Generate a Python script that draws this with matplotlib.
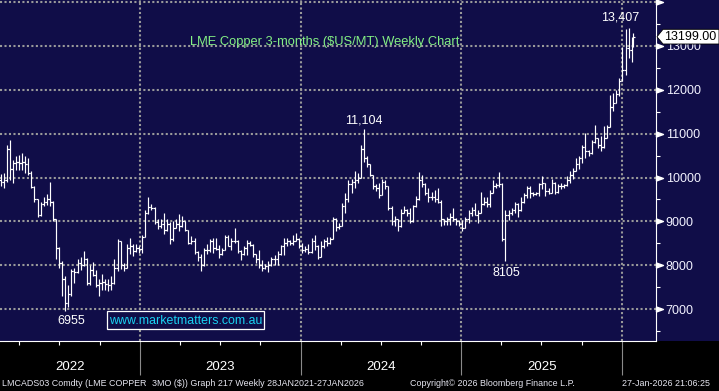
import matplotlib
matplotlib.use('Agg')
import matplotlib.pyplot as plt
import matplotlib.dates as mdates
import matplotlib.ticker as mticker
from matplotlib.patches import Rectangle, Polygon
from matplotlib.transforms import blended_transform_factory
import numpy as np
import pandas as pd

plt.rcParams['font.family'] = ['Liberation Sans', 'DejaVu Sans']

# LME Copper 3-months, weekly bars (Fri 18-Feb-2022 .. Tue 27-Jan-2026)
opens = [
    9950, 9900, 9950, 10650, 10200, 10330, 10350, 10320, 10350, 10300,
    10100, 9780, 9500, 9150, 9400, 9450, 9500, 9450, 9050, 8400,
    8050, 7700, 7150, 7350, 7880, 7850, 8050, 8000, 8150, 7600,
    7900, 7780, 7550, 7600, 7620, 7580, 7550, 7600, 7950, 8550,
    8000, 7950, 8400, 8450, 8330, 8400, 8370, 8650, 9200, 9330,
    9300, 8980, 8900, 8950, 8800, 8950, 8600, 8850, 8950, 8900,
    9000, 8800, 8500, 8550, 8300, 8200, 8000, 8350, 8350, 8550,
    8400, 8380, 8250, 8350, 8650, 8450, 8550, 8550, 8330, 8250,
    8400, 8500, 8470, 8250, 8150, 8000, 7950, 7980, 8000, 8150,
    8150, 8250, 8450, 8500, 8550, 8500, 8550, 8600, 8450, 8350,
    8380, 8300, 8550, 8450, 8200, 8450, 8550, 8500, 8600, 9050,
    8880, 8900, 9350, 9500, 9850, 9900, 9950, 10000, 10650, 10450,
    10300, 10050, 9800, 9750, 9600, 9900, 9800, 9300, 9000, 9050,
    8900, 9200, 9250, 9200, 9000, 9350, 9500, 9950, 9850, 9650,
    9550, 9550, 9500, 9450, 9050, 9000, 9050, 9100, 9050, 9000,
    8950, 8850, 9050, 9200, 9250, 9150, 9200, 9400, 9450, 9400,
    9650, 9800, 9820, 9850, 8600, 9150, 9200, 9250, 9400, 9250,
    9450, 9600, 9750, 9650, 9620, 9640, 9850, 9870, 9700, 9650,
    9880, 9660, 9800, 9800, 9820, 9950, 10050, 10150, 10300, 10450,
    10700, 10600, 10550, 10800, 10900, 10750, 10700, 10900, 11150, 11600,
    11700, 11900, 12200, 12450, 12950, 12900, 13100,
]
highs = [
    10070, 10100, 10730, 10845, 10400, 10480, 10520, 10560, 10480, 10450,
    10150, 9800, 9500, 9450, 9560, 9620, 9900, 9460, 9060, 8420,
    8100, 7750, 7550, 7920, 7950, 8150, 8200, 8330, 8160, 8000,
    8080, 7900, 7700, 7800, 7700, 7700, 7750, 8150, 8600, 8560,
    8060, 8480, 8630, 8480, 8480, 8450, 8700, 9250, 9550, 9400,
    9320, 9050, 9050, 9200, 9050, 8980, 9010, 9050, 9170, 9130,
    9015, 8800, 8670, 8630, 8330, 8250, 8400, 8480, 8600, 8620,
    8620, 8470, 8400, 8700, 8700, 8620, 8850, 8580, 8360, 8430,
    8580, 8550, 8480, 8260, 8360, 8130, 8020, 8090, 8200, 8240,
    8320, 8470, 8620, 8620, 8580, 8700, 8740, 8620, 8500, 8450,
    8480, 8620, 8680, 8460, 8550, 8600, 8640, 8650, 9110, 9070,
    8970, 9420, 9640, 9950, 9960, 10144, 10100, 10750, 11104, 10485,
    10300, 10050, 9850, 9880, 9955, 9950, 9800, 9350, 9121, 9060,
    9273, 9348, 9280, 9310, 9380, 9570, 10130, 10050, 9870, 9750,
    9680, 9710, 9750, 9490, 9060, 9110, 9190, 9300, 9075, 9040,
    9040, 9100, 9263, 9338, 9413, 9263, 9677, 9564, 9564, 9714,
    9940, 9865, 10128, 9870, 9250, 9260, 9300, 9450, 9410, 9560,
    9655, 9806, 9806, 9660, 9660, 9880, 10033, 9882, 9770, 9957,
    9890, 9844, 9882, 9844, 10033, 10146, 10222, 10448, 10486, 10750,
    11014, 10620, 10863, 11203, 10901, 10939, 11165, 11203, 11883, 11920,
    11996, 12263, 12977, 13390, 13407, 13200, 13280,
]
lows = [
    9800, 9750, 9900, 9950, 9880, 10180, 10180, 10180, 10100, 10050,
    9760, 9450, 9100, 9130, 9350, 9380, 9350, 9000, 8140, 7950,
    7300, 6955, 7050, 7300, 7600, 7820, 7900, 7980, 7550, 7560,
    7750, 7500, 7300, 7450, 7450, 7420, 7450, 7580, 7870, 7910,
    7870, 7940, 8250, 8210, 8300, 8280, 8280, 8640, 9180, 9250,
    8950, 8820, 8860, 8710, 8780, 8480, 8560, 8840, 8790, 8880,
    8790, 8480, 8480, 8250, 8100, 7870, 7980, 8250, 8300, 8280,
    8360, 8170, 8240, 8340, 8430, 8360, 8500, 8280, 8130, 8240,
    8240, 8430, 8200, 8050, 7950, 7864, 7920, 7860, 7990, 8010,
    8010, 8240, 8240, 8430, 8470, 8470, 8545, 8400, 8280, 8300,
    8250, 8280, 8350, 8135, 8180, 8400, 8450, 8480, 8590, 8780,
    8820, 8890, 9190, 9450, 9650, 9760, 9880, 9980, 10350, 10250,
    10030, 9727, 9700, 9540, 9600, 9727, 9270, 8930, 8894, 8780,
    8880, 9197, 9121, 8970, 8990, 9330, 9480, 9790, 9600, 9450,
    9490, 9450, 9410, 8890, 8925, 8925, 8925, 9000, 8925, 8890,
    8775, 8840, 8960, 9113, 9150, 8962, 9190, 9376, 9338, 9338,
    9640, 9752, 9789, 8550, 8105, 9040, 9150, 9200, 9110, 9240,
    9410, 9542, 9542, 9580, 9600, 9580, 9730, 9580, 9620, 9640,
    9618, 9650, 9731, 9769, 9810, 9882, 9957, 10146, 10184, 10335,
    10448, 10486, 10540, 10788, 10675, 10599, 10675, 10890, 11140, 11505,
    11690, 11845, 12190, 12338, 12714, 12639, 12977,
]
closes = [
    9900, 9950, 10650, 10200, 10330, 10350, 10320, 10350, 10300, 10100,
    9780, 9500, 9150, 9400, 9450, 9500, 9450, 9050, 8400, 8050,
    7700, 7150, 7350, 7880, 7850, 8050, 8000, 8150, 7600, 7900,
    7780, 7550, 7600, 7620, 7580, 7550, 7600, 7950, 8550, 8000,
    7950, 8400, 8450, 8330, 8400, 8370, 8650, 9200, 9330, 9300,
    8980, 8900, 8950, 8800, 8950, 8600, 8850, 8950, 8900, 9000,
    8800, 8500, 8550, 8300, 8200, 8000, 8350, 8350, 8550, 8400,
    8380, 8250, 8350, 8650, 8450, 8550, 8550, 8330, 8250, 8400,
    8500, 8470, 8250, 8150, 8000, 7950, 7980, 8000, 8150, 8150,
    8250, 8450, 8500, 8550, 8500, 8550, 8600, 8450, 8350, 8380,
    8300, 8550, 8450, 8200, 8450, 8550, 8500, 8600, 9050, 8880,
    8900, 9350, 9500, 9850, 9900, 9950, 10000, 10650, 10450, 10300,
    10050, 9800, 9750, 9600, 9900, 9800, 9300, 9000, 9050, 8900,
    9200, 9250, 9200, 9000, 9350, 9500, 9950, 9850, 9650, 9550,
    9550, 9500, 9450, 9050, 9000, 9050, 9100, 9050, 9000, 8950,
    8850, 9050, 9200, 9250, 9150, 9200, 9400, 9450, 9400, 9650,
    9800, 9820, 9850, 8600, 9150, 9200, 9250, 9400, 9250, 9450,
    9600, 9750, 9650, 9620, 9640, 9850, 9870, 9700, 9650, 9880,
    9660, 9800, 9800, 9820, 9950, 10050, 10150, 10300, 10450, 10700,
    10600, 10550, 10800, 10900, 10750, 10700, 10900, 11150, 11600, 11700,
    11900, 12200, 12450, 12950, 12900, 13100, 13199,
]
dates = list(pd.date_range('2022-02-18', periods=206, freq='7D')) + [pd.Timestamp('2026-01-27')]

y_levels = [7000, 8000, 9000, 10000, 11000, 12000, 13000, 14000]
notes = [('13,407', 204, 'high', -6.2, 7.8),
         ('11,104', 118, 'high', 0.0, 6.1),
         ('8105', 164, 'low', 0.7, -8.6),
         ('6955', 21, 'low', 4.3, -7.2)]
years = [2022, 2023, 2024, 2025]
title = 'LME Copper 3-months ($US/MT) Weekly Chart'
last_price = '13199.00'

NAVY = '#100d48'
W, H = 719, 391


def fx(px):
    return px / W


def fy(py):
    return 1 - py / H


fig = plt.figure(figsize=(W / 100, H / 100), dpi=100, facecolor='black')
fig.add_artist(Rectangle((0, fy(341)), 1, 341 / H, transform=fig.transFigure,
                         facecolor=NAVY, edgecolor='none', zorder=-1))
ax = fig.add_axes([0, fy(341), fx(656), 341 / H], facecolor=NAVY)

x = mdates.date2num(dates)
tick = 4.0
ax.vlines(x, lows, highs, color='white', lw=0.85)
ax.hlines(opens, x - tick, x, color='white', lw=0.85)
ax.hlines(closes, x, x + tick, color='white', lw=0.85)

xmin = mdates.date2num(pd.Timestamp('2022-02-16 16:00'))
xmax = mdates.date2num(pd.Timestamp('2026-03-19 08:00'))
ax.set_xlim(xmin, xmax)
ax.set_ylim(6278, 14041)

# spines
for s in ['top', 'left']:
    ax.spines[s].set_visible(False)
for s in ['right', 'bottom']:
    ax.spines[s].set_color('white')
    ax.spines[s].set_linewidth(0.8)

# x axis: year lines + quarter ticks
ax.xaxis.set_major_locator(mdates.YearLocator())
ax.xaxis.set_minor_locator(mdates.MonthLocator(bymonth=[4, 7, 10]))
ax.xaxis.set_major_formatter(mticker.NullFormatter())
ax.tick_params(axis='x', which='major', length=24.5, width=0.8, color='#8a8a8a')
ax.tick_params(axis='x', which='minor', length=2.6, width=0.8, color='white')

# y axis on the right
ax.yaxis.tick_right()
ax.set_yticks(y_levels)
ax.set_yticklabels([str(v) if v < 14000 else '' for v in y_levels])
ax.set_yticks([v - 500 for v in y_levels], minor=True)
ax.tick_params(axis='y', which='major', length=0, pad=7, labelsize=9, labelcolor='#f2f2ff')
ax.tick_params(axis='y', which='minor', length=2.9, width=0.8, color='white')

grid_style = dict(color='#9a9a9a', lw=1.5, linestyle=(0, (1, 1.15)))
ax.grid(True, axis='y', which='major', **grid_style)
ax.grid(True, axis='x', which='major', **grid_style)
ax.set_axisbelow(True)

# triangle markers on the price scale
tri = [(0, -0.36), (1, 0), (0, 0.36), (0, -0.36)]
ax.plot(np.ones(len(y_levels)), y_levels, ls='none', marker=tri, ms=10, color='white',
        transform=blended_transform_factory(ax.transAxes, ax.transData), clip_on=False)

# year labels, centered in the visible part of each year
trans = blended_transform_factory(ax.transData, fig.transFigure)
for yr in years:
    a = max(xmin, mdates.date2num(pd.Timestamp(f'{yr}-01-01')))
    b = min(xmax, mdates.date2num(pd.Timestamp(f'{yr + 1}-01-01')))
    fig.text((a + b) / 2, fy(367), str(yr), transform=trans, ha='center', va='center',
             color='white', fontsize=9.5)

# high / low notes
for txt, i, kind, dx, dy in notes:
    yv = highs[i] if kind == 'high' else lows[i]
    ax.annotate(txt, xy=(x[i], yv), xytext=(dx, dy), textcoords='offset points',
                ha='center', va='center', color='white', fontsize=9)

fig.text(fx(324.5), fy(42), title, color='#84f084', fontsize=9.3, ha='center', va='center')

# website box
fig.add_artist(Rectangle((fx(107), fy(329.3)), fx(264) - fx(107), (329.3 - 311) / H,
                         transform=fig.transFigure, facecolor=NAVY, edgecolor='white',
                         lw=0.9, zorder=2))
fig.text(fx(185.5), fy(320.5), 'www.marketmatters.com.au', color='#1ad2f2', fontsize=8.9,
         ha='center', va='center', zorder=3)

# last price tag
tag = [(657, 36.8), (663, 29.3), (719, 29.3), (719, 44.0), (663, 44.0)]
fig.add_artist(Polygon([(fx(a), fy(b)) for a, b in tag], closed=True, transform=fig.transFigure,
                       facecolor='white', edgecolor='black', lw=0.6, zorder=2))
fig.text(fx(664), fy(36.8), last_price, color='black', fontsize=9, ha='left', va='center', zorder=3)

# footer
foot = dict(color='#e6e6f0', fontsize=6.4, ha='left', va='center')
fig.text(fx(2), fy(384), 'LMCADS03 Comdty (LME COPPER', **foot)
fig.text(fx(152), fy(384), '3MO ($)) Graph 217 Weekly 28JAN2021-27JAN2026', **foot)
fig.text(fx(410), fy(384), 'Copyright\u00a9 2026 Bloomberg Finance L.P.', **foot)
fig.text(fx(622), fy(384), '27-Jan-2026 21:06:25', **foot)

fig.savefig('out.png', dpi=100, facecolor='black')
